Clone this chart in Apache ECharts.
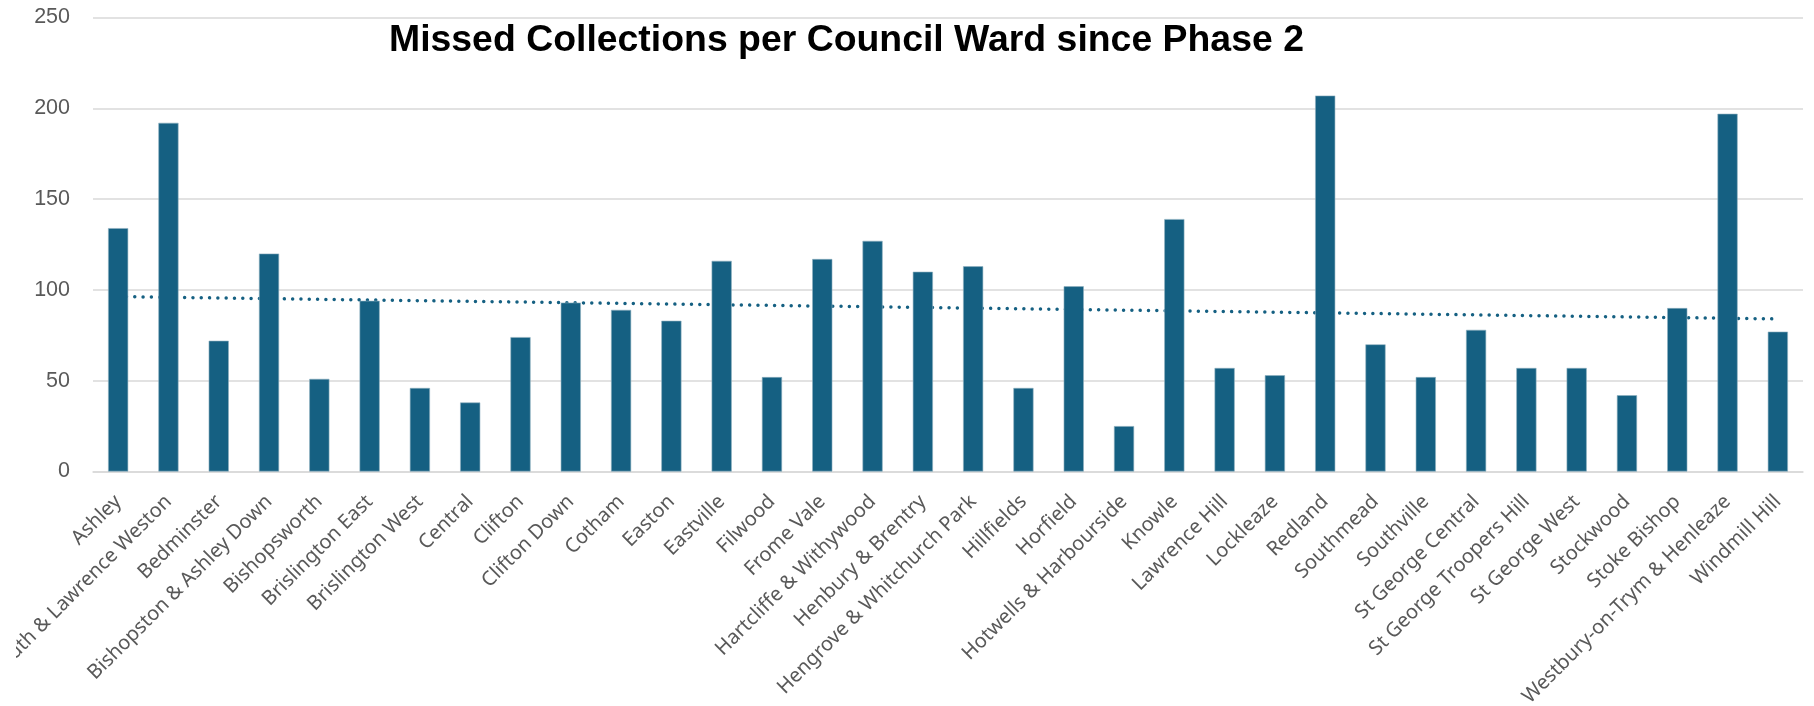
<!DOCTYPE html>
<html>
<head>
<meta charset="utf-8">
<style>
  html, body { margin: 0; padding: 0; background: #ffffff; }
  #chart { width: 1814px; height: 706px; }
</style>
<script src="https://cdn.jsdelivr.net/npm/echarts@6/dist/echarts.min.js"></script>
</head>
<body>
<div id="chart"></div>
<script>
const titleText = 'Missed Collections per Council Ward since Phase 2';
const wards = [
  'Ashley', 'Avonmouth & Lawrence Weston', 'Bedminster', 'Bishopston & Ashley Down',
  'Bishopsworth', 'Brislington East', 'Brislington West', 'Central', 'Clifton',
  'Clifton Down', 'Cotham', 'Easton', 'Eastville', 'Filwood', 'Frome Vale',
  'Hartcliffe & Withywood', 'Henbury & Brentry', 'Hengrove & Whitchurch Park',
  'Hillfields', 'Horfield', 'Hotwells & Harbourside', 'Knowle', 'Lawrence Hill',
  'Lockleaze', 'Redland', 'Southmead', 'Southville', 'St George Central',
  'St George Troopers Hill', 'St George West', 'Stockwood', 'Stoke Bishop',
  'Westbury-on-Trym & Henleaze', 'Windmill Hill'
];
const missed = [
  134, 192, 72, 120, 51, 94, 46, 38, 74, 93, 89, 83, 116, 52, 117, 127, 110, 113,
  46, 102, 25, 139, 57, 53, 207, 70, 52, 78, 57, 57, 42, 90, 197, 77
];
// dotted linear trendline, read at the first and last ward
const trendStart = 96.3;
const trendEnd = 84.0;
const yTicks = { min: 0, max: 250, interval: 50 };

const trendData = wards.map((w, i) =>
  i === 0 ? trendStart : (i === wards.length - 1 ? trendEnd : null));

const chart = echarts.init(document.getElementById('chart'), null, { renderer: 'canvas' });
chart.setOption({
  animation: false,
  backgroundColor: '#ffffff',
  title: {
    text: titleText,
    left: 384,
    top: 17,
    textStyle: {
      fontFamily: '"Liberation Sans", Arial, sans-serif',
      fontSize: 37.4,
      fontWeight: 'bold',
      color: '#000000'
    }
  },
  grid: {
    left: 93, right: 11, top: 17.5, bottom: 234.5,
    containLabel: false, outerBoundsMode: 'none'
  },
  // chart-area edge: the reference clips overflowing category labels at the left border
  graphic: [{
    type: 'rect',
    left: 0,
    top: 485,
    z: 100,
    silent: true,
    shape: { width: 16, height: 221 },
    style: { fill: '#ffffff' }
  }],
  xAxis: {
    type: 'category',
    data: wards,
    axisLine: { show: true, lineStyle: { color: '#d9d9d9', width: 1.5 } },
    axisTick: { show: false },
    axisLabel: {
      interval: 0,
      rotate: 45,
      margin: 27,
      align: 'right',
      verticalAlign: 'middle',
      color: '#595959',
      fontSize: 20,
      fontFamily: '"Noto Sans", "Open Sans", sans-serif'
    }
  },
  yAxis: {
    type: 'value',
    min: yTicks.min,
    max: yTicks.max,
    interval: yTicks.interval,
    axisLine: { show: false },
    axisTick: { show: false },
    splitLine: { lineStyle: { color: '#d9d9d9', width: 1.5 } },
    axisLabel: {
      margin: 23,
      color: '#595959',
      fontSize: 21.5,
      fontFamily: '"Liberation Sans", Arial, sans-serif'
    }
  },
  series: [
    {
      type: 'line',
      data: trendData,
      connectNulls: true,
      symbol: 'none',
      z: 1,
      lineStyle: { color: '#156082', width: 3.5, type: [0.01, 8.3], cap: 'round' }
    },
    {
      type: 'bar',
      data: missed,
      barCategoryGap: '60%',
      z: 2,
      itemStyle: { color: '#156082', borderColor: '#8fb0c0', borderWidth: 0.6 }
    }
  ]
});
</script>
</body>
</html>
